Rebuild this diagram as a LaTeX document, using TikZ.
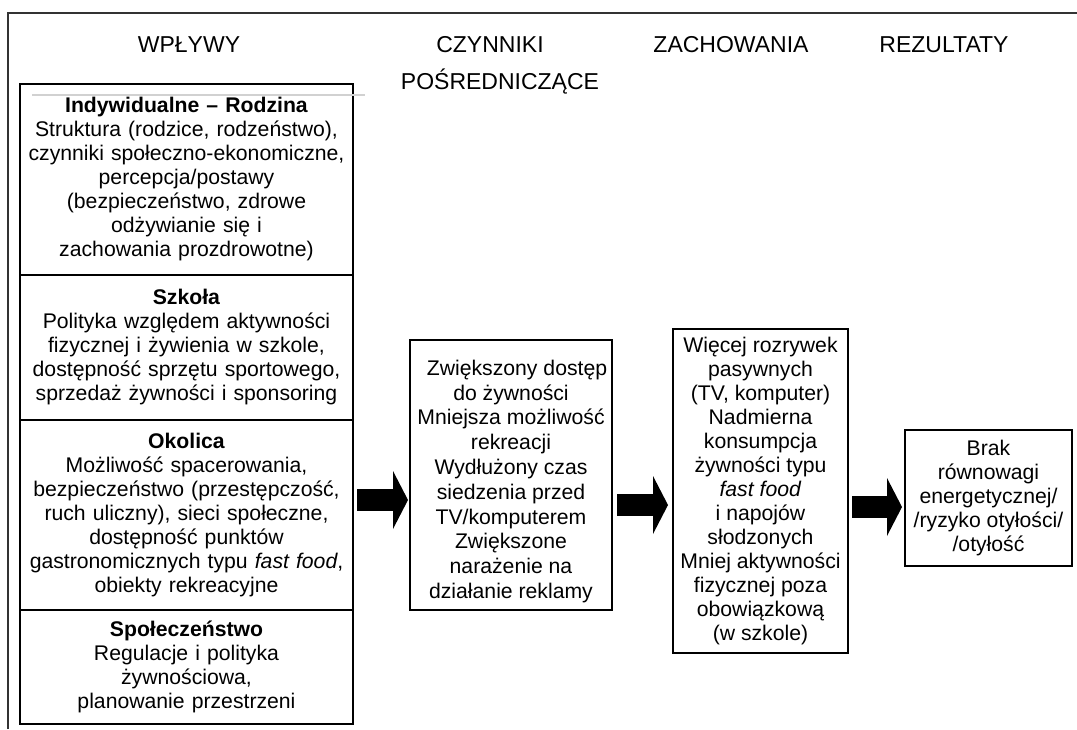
\documentclass[tikz,border=0pt]{standalone}
\usepackage{fontspec}
\setmainfont{Liberation Sans}
\usetikzlibrary{positioning,arrows.meta}

\tikzset{
	box/.style={draw, line width=0.6pt, align=center, inner sep=0pt, outer sep=0pt, font=\fontsize{10.6}{12}\selectfont},
	sect/.style={box, minimum width=166.5pt, text width=164pt, anchor=north},
	head/.style={inner sep=0pt, font=\fontsize{11.5}{13}\selectfont},
	fatarrow/.style={line width=11pt, -{Triangle[length=7.5pt,width=29pt,line width=0pt]}}
}

\begin{document}
\begin{tikzpicture}[x=0.5pt,y=-0.5pt]
		\useasboundingbox (0,0) rectangle (1077,729);
		\draw[line width=0.6pt, black!80] (8,729)--(8,13)--(1077,13);
		
		\node[head] (hInfl) at (189,45) {WPŁYWY};
		\node[head] (hMed) at (490,45) {CZYNNIKI};
		\node[head] (hMedB) at (500,82) {POŚREDNICZĄCE};
		\node[head] (hBeh) at (731,45) {ZACHOWANIA};
		\node[head] (hRes) at (944,45) {REZULTATY};
		
		\node[sect, minimum height=95.5pt] (fam) at (186.5,84) {\textbf{Indywidualne – Rodzina}\\Struktura (rodzice, rodzeństwo),\\czynniki społeczno-ekonomiczne,\\percepcja/postawy\\(bezpieczeństwo, zdrowe\\odżywianie się i\\zachowania prozdrowotne)};
		\node[sect, minimum height=72.5pt, below=0pt of fam] (school) {\textbf{Szkoła}\\Polityka względem aktywności\\fizycznej i żywienia w szkole,\\dostępność sprzętu sportowego,\\sprzedaż żywności i sponsoring};
		\node[sect, minimum height=95pt, below=0pt of school] (hood) {\textbf{Okolica}\\Możliwość spacerowania,\\bezpieczeństwo (przestępczość,\\ruch uliczny), sieci społeczne,\\dostępność punktów\\gastronomicznych typu \textit{fast food},\\obiekty rekreacyjne};
		\node[sect, minimum height=57pt, below=0pt of hood] (society) {\textbf{Społeczeństwo}\\Regulacje i polityka\\żywnościowa,\\planowanie przestrzeni};
		\draw[line width=0.6pt, black!18] (32,95)--(365,95);
		
		\node[box, minimum width=101pt, minimum height=135pt, font=\fontsize{10.6}{12.4}\selectfont] (mediat) at (511,475) {\rule{0pt}{14pt}\hspace{6pt}Zwiększony dostęp\\do żywności\\Mniejsza możliwość\\rekreacji\\Wydłużony czas\\siedzenia przed\\TV/komputerem\\Zwiększone\\narażenie na\\działanie reklamy};
		\node[box, minimum width=87.5pt, minimum height=162pt] (behav) at (760.5,491) {Więcej rozrywek\\pasywnych\\(TV, komputer)\\Nadmierna\\konsumpcja\\żywności typu\\\textit{fast food}\\i napojów\\słodzonych\\Mniej aktywności\\fizycznej poza\\obowiązkową\\(w szkole)};
		\node[box, minimum width=83.5pt, minimum height=68pt] (result) at (988.5,498) {Brak\\równowagi\\energetycznej/\\/ryzyko otyłości/\\/otyłość};
		
		\coordinate (rowA) at (0,500);
		\coordinate (rowB) at (0,505);
		\coordinate (rowC) at (0,507);
		\draw[fatarrow, shorten <=2pt, shorten >=1pt] (hood.east |- rowA)--(mediat.west |- rowA);
		\draw[fatarrow, shorten <=2.5pt, shorten >=2.5pt] (mediat.east |- rowB)--(behav.west |- rowB);
		\draw[fatarrow, shorten <=2pt, shorten >=1.5pt] (behav.east |- rowC)--(result.west |- rowC);
	\end{tikzpicture}
\end{document}
